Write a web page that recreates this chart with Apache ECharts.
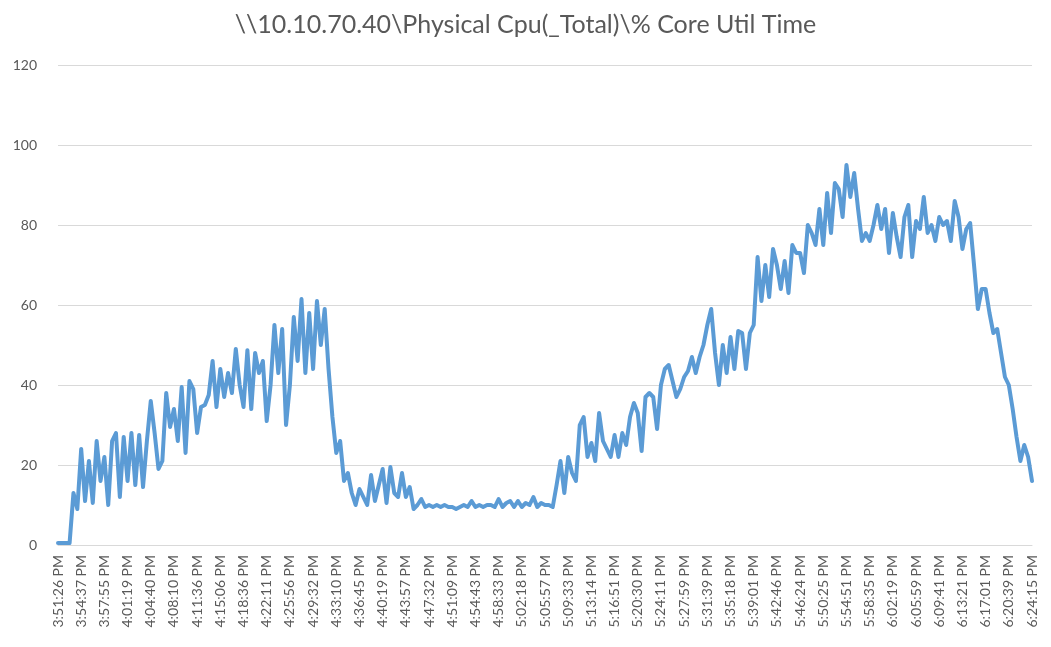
<!DOCTYPE html>
<html>
<head>
<meta charset="utf-8">
<script src="https://cdn.jsdelivr.net/npm/echarts@6/dist/echarts.min.js"></script>
<style>
html,body{margin:0;padding:0;background:#fff;}
#chart{width:1051px;height:647px;}
</style>
</head>
<body>
<div id="chart"></div>
<script>
const chartTitle = "\\\\10.10.70.40\\Physical Cpu(_Total)\\% Core Util Time";
const tickLabels = ["3:51:26 PM","3:54:37 PM","3:57:55 PM","4:01:19 PM","4:04:40 PM","4:08:10 PM","4:11:36 PM","4:15:06 PM","4:18:36 PM","4:22:11 PM","4:25:56 PM","4:29:32 PM","4:33:10 PM","4:36:45 PM","4:40:19 PM","4:43:57 PM","4:47:32 PM","4:51:09 PM","4:54:43 PM","4:58:33 PM","5:02:18 PM","5:05:57 PM","5:09:33 PM","5:13:14 PM","5:16:51 PM","5:20:30 PM","5:24:11 PM","5:27:59 PM","5:31:39 PM","5:35:18 PM","5:39:01 PM","5:42:46 PM","5:46:24 PM","5:50:25 PM","5:54:51 PM","5:58:35 PM","6:02:19 PM","6:05:59 PM","6:09:41 PM","6:13:21 PM","6:17:01 PM","6:20:39 PM","6:24:15 PM"];
const pointsPerTick = 6;
const yTicks = [0, 20, 40, 60, 80, 100, 120];
const cpuValues = [
0.5,0.5,0.5,0.5,13,9,24,11,21,10.5,
26,16,22,10,26,28,12,27,16,28,
15,27.5,14.5,26,36,28,19,21,38,29.5,
34,26,39.5,23,41,39,28,34.5,35,37.5,
46,34.5,44,37,43,38,49,40,34.5,48.7,
34,48,43,46,31,40,55,43,54,30,
40,57,46,61.5,43,58,44,61,50,59,
44,32,23,26,16,18,13,10,14,12,
10,17.5,11,15,19,10.5,19.5,13,12,18,
12,14.5,9,10,11.5,9.5,10,9.5,10,9.5,
10,9.5,9.5,9,9.5,10,9.5,11,9.5,10,
9.5,10,10,9.5,11.5,9.5,10.5,11,9.5,11,
9.5,10.5,10,12,9.5,10.5,10,10,9.5,15,
21,13,22,18,16,30,32,22,25.5,21,
33,26,24,22,27.5,22,28,25,32,35.5,
33,23.5,37,38,37,29,40,44,45,41,
37,39,42,43.5,47,43,47,50,55,59,
48,40,50,43,52,44,53.5,53,44,53,
55,72,61,70,62,74,70,64,71,63,
75,73,73,68,80,78,75,84,75,88,
78,90.5,89,82,95,87,93,84,76,78,
76,80,85,79,84,73,83,77,72,82,
85,72,81,79,87,78,80,76,82,80,
81,76,86,82,74,79,80.5,70,59,64,
64,58,53,54,48,42,40,34,27,21,
25,22,16
];

const seriesData = cpuValues.map((v, i) => [i, v]);
const xMax = (tickLabels.length - 1) * pointsPerTick;

const chart = echarts.init(document.getElementById('chart'), null, {renderer: 'canvas'});
chart.setOption({
  animation: false,
  backgroundColor: '#ffffff',
  title: {
    text: chartTitle,
    left: 'center',
    top: 7,
    textStyle: {fontFamily: 'Lato', fontSize: 25, fontWeight: 'normal', color: '#595959'}
  },
  grid: {left: 58, right: 19, top: 65, bottom: 102, containLabel: false},
  xAxis: {
    type: 'value',
    min: 0,
    max: xMax,
    interval: pointsPerTick,
    axisLine: {show: true, lineStyle: {color: '#d9d9d9', width: 1}},
    axisTick: {show: false},
    splitLine: {show: false},
    axisLabel: {
      rotate: 90,
      margin: 10,
      fontFamily: 'Lato',
      fontSize: 14,
      color: '#595959',
      showMinLabel: true,
      showMaxLabel: true,
      formatter: (v) => tickLabels[Math.round(v / pointsPerTick)] || ''
    }
  },
  yAxis: {
    type: 'value',
    min: yTicks[0],
    max: yTicks[yTicks.length - 1],
    interval: yTicks[1] - yTicks[0],
    axisLine: {show: false},
    axisTick: {show: false},
    splitLine: {show: true, lineStyle: {color: '#d9d9d9', width: 1}},
    axisLabel: {margin: 21, fontFamily: 'Lato', fontSize: 14, color: '#595959'}
  },
  series: [{
    type: 'line',
    data: seriesData,
    showSymbol: false,
    symbol: 'none',
    lineStyle: {color: '#5b9bd5', width: 4, join: 'round', cap: 'round'},
    itemStyle: {color: '#5b9bd5'}
  }]
});
</script>
</body>
</html>
